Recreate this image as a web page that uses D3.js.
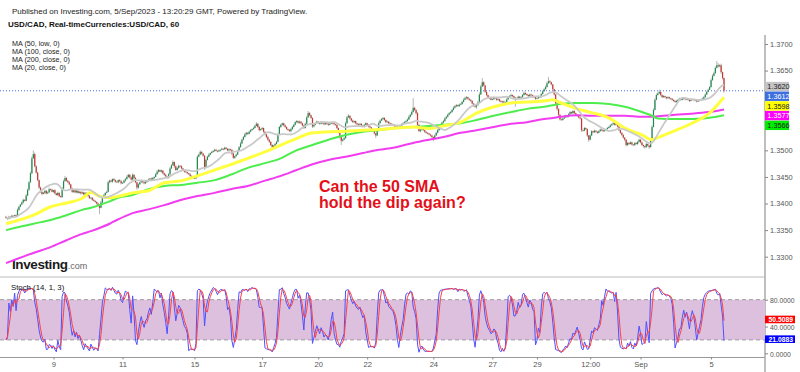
<!DOCTYPE html>
<html><head><meta charset="utf-8">
<script src="https://cdn.jsdelivr.net/npm/d3@7"></script>
<style>body{margin:0;background:#fff;}svg{display:block;font-family:"Liberation Sans",Arial,Helvetica,sans-serif;}</style>
</head><body><svg id="c" width="800" height="372"></svg>
<script>
// prices are stored as pips above 1.3000 (price = 1.3000 + pips/10000), one value per hourly bar
const firstOpenPips = 375;
const closePips = [
373,371,375,374,377,376,378,376,388,394,398,402,407,405,415,426,440,457,485,493,
470,458,444,430,422,418,420,424,419,421,427,426,422,425,419,416,420,414,412,428,
442,448,443,440,436,428,422,425,421,424,420,422,419,421,417,420,418,414,410,411,
407,405,403,400,397,392,402,412,416,420,422,440,443,441,446,444,441,440,444,442,
438,439,443,446,450,454,449,445,454,448,440,430,436,440,443,440,438,441,442,445,
447,444,448,450,455,460,463,460,462,457,454,451,448,455,466,472,478,470,463,467,
471,470,466,463,460,459,457,455,452,450,448,447,450,488,492,497,494,490,468,482,
488,492,495,497,499,501,499,498,500,501,503,502,505,503,500,502,501,494,486,489,
492,499,506,513,520,525,530,533,531,535,538,540,542,546,550,544,538,540,542,535,
530,525,520,516,510,506,509,512,516,530,544,548,551,547,544,540,538,536,540,544,
548,553,555,552,554,551,547,542,550,562,570,566,561,545,548,551,554,552,550,553,
551,549,551,550,548,550,552,551,549,548,542,535,525,518,520,523,551,562,565,560,
556,553,555,551,549,548,550,547,545,548,551,548,545,543,540,538,532,528,540,551,
556,559,561,557,553,554,551,550,549,548,545,542,544,542,546,549,551,553,555,558,
563,567,572,580,576,570,548,536,539,541,538,535,533,532,530,528,525,522,528,533,
538,544,548,552,555,560,563,567,570,572,576,580,583,585,583,586,587,591,595,598,
600,597,595,593,588,584,582,585,590,605,620,628,622,610,604,600,598,595,596,599,
598,595,596,593,591,592,590,591,596,600,602,604,602,599,596,598,601,599,600,604,
608,606,604,602,605,604,601,600,597,598,601,600,606,611,615,619,626,630,628,624,
615,605,588,578,567,558,557,560,562,565,563,568,572,570,574,570,567,565,562,560,
538,537,542,540,528,520,528,536,534,537,535,533,536,539,538,536,539,540,542,544,
547,549,551,548,551,545,538,533,529,524,520,510,514,512,515,511,510,514,512,516,
520,515,510,508,506,512,509,506,520,544,576,595,604,607,610,604,600,602,600,598,
600,598,597,595,593,591,593,595,597,595,597,598,596,597,595,593,595,596,595,594,
592,593,594,595,597,600,605,610,614,619,632,640,645,655,660,658,660,647,636,612];
// upper wick (pips above max(open,close))
const upperWick = [
2,1,2,1,2,1,1,2,3,2,1,2,2,1,3,2,2,3,4,7,3,2,2,1,2,
1,2,2,1,2,3,1,2,1,2,1,2,1,1,3,3,4,2,1,2,1,2,2,1,2,
1,2,1,2,1,2,1,1,2,1,1,2,1,1,2,2,3,2,2,1,2,3,2,2,1,
2,1,2,1,2,2,1,2,2,3,2,1,2,3,1,2,1,2,1,2,1,2,1,2,2,
1,2,2,1,2,3,2,1,2,1,1,2,1,2,3,2,3,1,2,2,2,1,2,1,1,
2,1,1,2,1,1,2,1,3,2,3,2,1,1,2,2,2,1,2,1,2,2,1,2,1,
2,1,2,1,1,2,1,1,2,1,2,2,2,3,2,2,3,2,1,2,2,1,2,2,3,
1,2,1,2,1,1,1,2,1,1,2,1,2,2,3,2,2,1,1,2,1,1,2,2,2,
2,2,2,1,2,1,1,1,2,3,4,2,1,1,2,2,2,1,1,2,1,2,1,1,2,
2,2,1,1,1,1,1,1,1,2,2,3,3,3,1,1,2,1,1,1,2,1,1,1,2,
2,1,1,1,1,1,1,1,2,3,2,2,2,1,1,2,1,1,1,1,1,1,2,1,2,
2,2,2,2,2,3,2,3,18,2,1,2,1,2,2,1,1,1,1,1,1,1,1,2,2,
2,3,2,2,2,2,2,2,2,2,2,3,2,2,1,2,2,2,3,3,2,1,1,1,1,
1,1,2,3,4,3,8,2,1,1,1,1,1,2,2,1,1,2,1,1,1,2,1,2,2,
2,3,1,1,1,2,2,1,2,2,3,1,1,1,2,1,1,1,1,1,2,1,2,2,2,
3,3,8,2,1,1,1,1,1,1,1,2,2,2,2,1,2,2,1,2,1,1,1,1,1,
1,1,2,1,1,1,2,2,1,2,1,1,2,2,1,1,2,1,2,2,2,2,2,1,2,
1,1,1,1,1,1,1,2,1,2,1,1,2,1,2,2,1,1,1,1,2,1,1,1,3,
3,3,3,2,4,1,1,2,1,1,2,1,1,1,1,1,2,2,2,1,2,2,1,2,1,
1,2,2,1,1,1,1,2,2,2,2,2,2,2,2,3,3,3,3,8,4,2,3,1,1];
// lower wick (pips below min(open,close))
const lowerWick = [
1,2,1,2,1,2,1,1,1,2,1,1,2,1,1,1,2,1,2,1,2,2,2,3,2,
2,1,2,2,1,1,2,1,2,2,1,2,2,1,1,2,1,2,2,2,1,2,2,2,1,
2,1,2,1,2,1,2,2,1,2,2,1,2,2,1,12,1,1,1,2,1,1,2,1,2,
2,2,1,2,2,2,1,1,2,1,2,2,2,1,2,2,4,2,1,1,2,2,1,2,1,
2,2,1,2,1,1,2,1,2,2,2,2,2,1,1,1,1,3,2,1,2,2,2,1,2,
1,2,1,2,2,2,1,1,1,1,1,2,2,5,2,1,1,1,1,1,2,1,2,1,2,
1,2,1,2,2,2,2,3,2,2,1,1,1,1,1,1,1,2,2,1,1,1,1,1,1,
2,2,1,2,2,2,2,2,2,2,1,1,1,1,1,1,2,2,2,2,1,1,1,2,2,
1,1,2,2,2,2,2,2,1,1,1,2,2,3,2,1,1,2,2,1,2,2,1,2,2,
1,1,2,2,2,2,3,3,8,2,1,1,1,1,2,2,1,2,2,2,2,1,2,2,2,
1,2,2,2,2,2,2,5,1,1,1,1,2,2,2,1,2,2,2,2,2,2,1,2,1,
1,1,1,1,1,1,1,1,1,2,3,2,1,2,2,2,2,2,2,2,2,2,5,1,1,
1,1,1,1,1,1,1,1,1,1,1,1,1,2,1,1,1,1,1,1,2,2,2,2,2,
2,2,4,1,1,1,1,2,2,2,2,2,1,1,1,2,2,2,2,1,2,1,1,1,1,
1,1,2,2,14,1,1,2,1,1,1,2,2,2,1,2,2,2,2,1,1,2,1,1,1,
1,1,1,2,2,2,2,3,3,3,2,1,1,1,1,2,1,1,2,2,2,2,2,2,2,
3,2,1,2,3,4,1,1,2,1,2,2,1,1,2,2,1,1,1,1,1,1,1,2,1,
2,2,2,2,2,3,3,2,2,1,2,2,2,1,2,1,2,2,3,3,1,2,3,1,1,
1,1,1,1,1,2,2,1,2,2,1,2,2,2,2,2,1,1,1,2,1,2,2,1,2,
2,1,1,2,2,2,1,1,1,1,1,1,1,1,1,1,1,1,1,1,2,2,3,3,4];

// moving averages at these bar indices (pips above 1.3000)
const maIdx   = [0,19,31,42,53,59,65,72,77,88,99,110,122,133,145,156,168,180,191,201,213,224,236,248,259,271,283,294,304,316,327,339,351,362,374,380,385,397,407,419,430,442,449,453,465,476,488,499];
const ma50Low = [362,378,394,401,410,421,414,411,413,420,424,439,443,452,463,473,485,497,510,521,533,535,536,538,539,542,544,541,546,553,570,582,589,591,593,595,590,578,571,561,542,529,520,524,537,550,568,600];
const ma100   = [350,362,369,378,388,392,397,404,410,416,427,433,435,439,444,454,467,476,485,499,510,520,529,535,538,542,544,546,548,551,557,565,572,578,582,585,587,589,589,587,582,572,565,560,559,559,561,566];
const ma200   = [288,307,318,331,343,348,354,362,369,382,389,397,407,414,420,427,433,443,452,462,474,482,488,495,501,506,514,520,525,533,538,544,550,553,559,561,563,566,565,565,565,563,563,564,567,569,572,577];
const ma20Len = 20;

// axis / label values
const priceTicks = [1.3300,1.3350,1.3400,1.3450,1.3500,1.3650,1.3700];
const stochTicks = [0,40,80];
const dayIdx  = [33,81,131,178,217,251,297,338,369,406,441,490];
const dayLbls = ["9","11","15","17","20","22","24","27","29","12:00","Sep","5"];
const priceLabels = [
  {v:1.3620, bg:"#c4c4c4", fg:"#222"},
  {v:1.3612, bg:"#3d6fe0", fg:"#fff"},
  {v:1.3598, bg:"#ffff00", fg:"#222"},
  {v:1.3577, bg:"#ff00ff", fg:"#fff"},
  {v:1.3566, bg:"#00ee00", fg:"#222"}];
const stochLabels = [{v:50.5089, bg:"#ff0000"},{v:21.0883, bg:"#0000ff"}];
const lastPrice = 1.3612;
const headerLines = ["Published on Investing.com, 5/Sep/2023 - 13:20:29 GMT, Powered by TradingView.","USD/CAD, Real-timeCurrencies:USD/CAD, 60"];
const legendLines = ["MA (50, low, 0)","MA (100, close, 0)","MA (200, close, 0)","MA (20, close, 0)"];

if (closePips.length!==500||upperWick.length!==500||lowerWick.length!==500) throw new Error("len "+closePips.length+" "+upperWick.length+" "+lowerWick.length);
if (ma50Low.length!==maIdx.length||ma100.length!==maIdx.length||ma200.length!==maIdx.length) throw new Error("ma len");

const P = p => 1.3 + p/10000;
const bars = closePips.map((c,i)=>{
  const o = i===0 ? firstOpenPips : closePips[i-1];
  return {i, o:P(o), c:P(c), h:P(Math.max(o,c)+upperWick[i]), l:P(Math.min(o,c)-lowerWick[i])};
});

const svg = d3.select("#c");
const x = d3.scaleLinear().domain([0,499]).range([6,724]);
const y = d3.scaleLinear().domain([1.33,1.37]).range([256.7,44]);
const ys = d3.scaleLinear().domain([0,80]).range([353.3,299.7]);
const AX = 765;

// header
svg.append("text").attr("x",12).attr("y",14).attr("font-size",8).attr("fill","#222").text(headerLines[0]);
svg.append("text").attr("x",8).attr("y",27).attr("font-size",8).attr("font-weight","bold").attr("fill","#111").text(headerLines[1]);
legendLines.forEach((t,k)=>svg.append("text").attr("x",12).attr("y",46+k*7.9).attr("font-size",7.2).attr("fill","#222").text(t));

// frame lines
svg.append("line").attr("x1",0).attr("x2",AX).attr("y1",277).attr("y2",277).attr("stroke","#bbb").attr("stroke-width",1);
svg.append("line").attr("x1",0).attr("x2",AX).attr("y1",357.5).attr("y2",357.5).attr("stroke","#999").attr("stroke-width",1);
svg.append("line").attr("x1",AX).attr("x2",AX).attr("y1",35).attr("y2",372).attr("stroke","#aaa").attr("stroke-width",1.5);

// stochastic panel
const stoch = svg.append("g");
stoch.append("rect").attr("x",0).attr("width",AX).attr("y",ys(80)).attr("height",ys(20)-ys(80)).attr("fill","#dcc0de");
[20,80].forEach(v=>stoch.append("line").attr("x1",0).attr("x2",AX).attr("y1",ys(v)).attr("y2",ys(v)).attr("stroke","#a09aa0").attr("stroke-dasharray","4,3"));
const K = bars.map((b,i)=>{
  const w = bars.slice(Math.max(0,i-13), i+1);
  const hh = d3.max(w,d=>d.h), ll = d3.min(w,d=>d.l);
  return hh>ll ? 100*(b.c-ll)/(hh-ll) : 50;
});
const D = K.map((k,i)=>d3.mean(K.slice(Math.max(0,i-2),i+1)));
const sl = d3.line().x((d,i)=>x(i)).y(d=>ys(d));
stoch.append("path").attr("d",sl(K)).attr("fill","none").attr("stroke","#5050ff").attr("stroke-width",1);
stoch.append("path").attr("d",sl(D)).attr("fill","none").attr("stroke","#ff4040").attr("stroke-width",1);
stoch.append("text").attr("x",11).attr("y",290).attr("font-size",7.8).attr("fill","#111").text("Stoch (14, 1, 3)");
const sAx = svg.append("g").attr("transform",`translate(${AX},0)`).call(d3.axisRight(ys).tickValues(stochTicks).tickFormat(d3.format(".4f")).tickSize(3).tickPadding(2));
sAx.select(".domain").remove();
sAx.selectAll("text").attr("font-size",6.8).attr("fill","#555").attr("font-family","Liberation Sans, Arial").attr("dy","0.45em");
sAx.selectAll("line").attr("stroke","#888");
stochLabels.forEach(l=>{
  const g = svg.append("g").attr("transform",`translate(${AX},${ys(l.v)})`);
  g.append("rect").attr("x",0).attr("y",-3.8).attr("width",30).attr("height",7.6).attr("fill",l.bg);
  g.append("text").attr("x",3.5).attr("y",2.5).attr("font-size",6.8).attr("font-weight","bold").attr("fill","#fff").text(l.v.toFixed(4));
});

// x axis
const xAx = svg.append("g").attr("transform","translate(0,357.5)").call(d3.axisBottom(x).tickValues(dayIdx).tickFormat((d,i)=>dayLbls[i]).tickSize(2).tickPadding(2));
xAx.select(".domain").remove();
xAx.selectAll("text").attr("font-size",7.6).attr("fill","#555").attr("font-family","Liberation Sans, Arial");
xAx.selectAll("line").attr("stroke","#888");

// price axis
const pAx = svg.append("g").attr("transform",`translate(${AX},0)`).call(d3.axisRight(y).tickValues(priceTicks).tickFormat(d3.format(".4f")).tickSize(3).tickPadding(2));
pAx.select(".domain").remove();
pAx.selectAll("text").attr("font-size",7.4).attr("fill","#555").attr("font-family","Liberation Sans, Arial");
pAx.selectAll("line").attr("stroke","#888");

// logo
const logo = svg.append("text").attr("x",12).attr("y",269);
logo.append("tspan").attr("font-size",13.5).attr("font-weight","bold").attr("fill","#1a1a1a").attr("letter-spacing",-0.4).text("Investing");
logo.append("tspan").attr("font-size",9).attr("fill","#666").text(".com");

// last price dotted line
svg.append("line").attr("x1",0).attr("x2",AX).attr("y1",y(lastPrice)).attr("y2",y(lastPrice)).attr("stroke","#4a6cf0").attr("stroke-width",1).attr("stroke-dasharray","1,2");

// candles
const cg = svg.append("g");
cg.selectAll("line.w").data(bars).join("line").attr("class","w")
  .attr("x1",d=>x(d.i)).attr("x2",d=>x(d.i)).attr("y1",d=>y(d.h)).attr("y2",d=>y(d.l))
  .attr("stroke","#8f9a92").attr("stroke-width",0.7);
cg.selectAll("rect").data(bars).join("rect")
  .attr("x",d=>x(d.i)-0.6).attr("width",1.2)
  .attr("y",d=>y(Math.max(d.o,d.c))).attr("height",d=>Math.max(0.7,Math.abs(y(d.o)-y(d.c))))
  .attr("fill",d=>d.c>=d.o?"#1d8a4e":"#c9332c");

// moving averages
const maLine = d3.line().x(d=>x(d[0])).y(d=>y(P(d[1]))).curve(d3.curveMonotoneX);
const mk = arr => maIdx.map((ix,k)=>[ix,arr[k]]);
svg.append("path").attr("d",maLine(mk(ma200))).attr("fill","none").attr("stroke","#f23cf2").attr("stroke-width",2);
svg.append("path").attr("d",maLine(mk(ma100))).attr("fill","none").attr("stroke","#4ced4c").attr("stroke-width",2);
svg.append("path").attr("d",maLine(mk(ma50Low))).attr("fill","none").attr("stroke","#ffff40").attr("stroke-width",3);
const ma20 = closePips.map((c,i)=>[i, d3.mean(closePips.slice(Math.max(0,i-ma20Len+1),i+1))]);
svg.append("path").attr("d",d3.line().x(d=>x(d[0])).y(d=>y(P(d[1])))(ma20)).attr("fill","none").attr("stroke","#c9c9c9").attr("stroke-width",1.8);

// price labels (stacked to avoid overlap)
let prevY = -Infinity;
priceLabels.slice().sort((a,b)=>b.v-a.v).forEach(l=>{
  const yy = Math.max(y(l.v), prevY+9.7); prevY = yy;
  const g = svg.append("g").attr("transform",`translate(${AX},${yy})`);
  g.append("rect").attr("x",0).attr("y",-4.7).attr("width",24).attr("height",9.4).attr("fill",l.bg);
  g.append("text").attr("x",2.3).attr("y",2.7).attr("font-size",7.3).attr("fill",l.fg).text(l.v.toFixed(4));
});

// annotation
const ann = svg.append("text").attr("font-size",16).attr("font-weight","bold").attr("fill","#e3101a");
ann.append("tspan").attr("x",319).attr("y",192).text("Can the 50 SMA");
ann.append("tspan").attr("x",319).attr("y",208).text("hold the dip again?");
</script></body></html>
